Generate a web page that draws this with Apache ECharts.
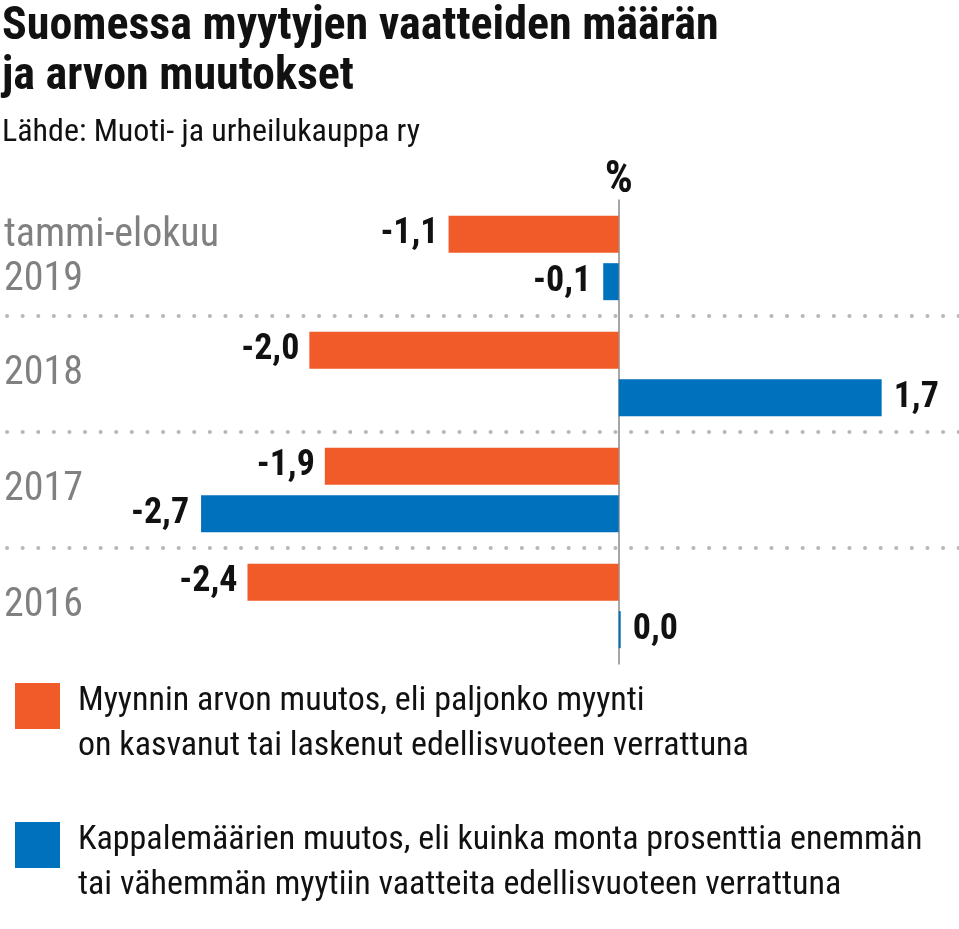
<!DOCTYPE html>
<html>
<head>
<meta charset="utf-8">
<script src="https://cdn.jsdelivr.net/npm/echarts@6/dist/echarts.min.js"></script>
<style>
html,body{margin:0;padding:0;background:#fff;}
#c{width:959px;height:929px;}
</style>
</head>
<body>
<div id="c"></div>
<script>
const FONT = "'Roboto Condensed', 'Liberation Sans Narrow', 'Arial Narrow', 'DejaVu Sans Condensed', Roboto, sans-serif";
const categories = ['tammi-elokuu\n2019', '2018', '2017', '2016'];
const valueChange = [-1.1, -2.0, -1.9, -2.4];
const quantityChange = [-0.1, 1.7, -2.7, 0.0];
const seriesNames = [
  'Myynnin arvon muutos, eli paljonko myynti\non kasvanut tai laskenut edellisvuoteen verrattuna',
  'Kappalemäärien muutos, eli kuinka monta prosenttia enemmän\ntai vähemmän myytiin vaatteita edellisvuoteen verrattuna'
];
const colors = ['#F15A29', '#0071BC'];

function toData(arr) {
  return arr.map(v => ({
    value: v,
    label: { position: v >= 0 ? 'right' : 'left' }
  }));
}
function fmt(p) { return p.value.toFixed(1).replace('.', ','); }
function legendFmt(name) {
  return '{s| }\n' + name.split('\n').map(l => '{a|' + l + '}').join('\n');
}

const chart = echarts.init(document.getElementById('c'));
const legendText = {
  fontFamily: FONT, fontSize: 34, color: '#111',
  rich: {
    s: { fontSize: 10, lineHeight: 36 },
    a: { fontFamily: FONT, fontSize: 34, color: '#111', lineHeight: 45, padding: [0, 0, 0, 13] }
  }
};
const legendBase = {
  left: 15, orient: 'vertical', itemWidth: 45, itemHeight: 46, padding: 0,
  icon: 'rect', itemGap: 0, textStyle: legendText, selectedMode: false, formatter: legendFmt
};
chart.setOption({
  animation: false,
  backgroundColor: '#fff',
  title: {
    text: 'Suomessa myytyjen vaatteiden määrän\nja arvon muutokset',
    subtext: 'Lähde: Muoti- ja urheilukauppa ry',
    left: 0, top: 2, padding: [0, 0, 0, 2],
    itemGap: 14,
    textStyle: { fontFamily: FONT, fontSize: 46, fontWeight: 'bold', color: '#111', lineHeight: 50 },
    subtextStyle: { fontFamily: FONT, fontSize: 32, color: '#111', lineHeight: 34 }
  },
  legend: [
    Object.assign({}, legendBase, { data: [seriesNames[0]], top: 656 }),
    Object.assign({}, legendBase, { data: [seriesNames[1]], top: 795 })
  ],
  grid: { left: 0, right: 0, top: 200, bottom: 265, containLabel: false, outerBoundsMode: 'none' },
  xAxis: {
    type: 'value', min: -4, max: 2.2, show: false,
    splitLine: { show: false }
  },
  yAxis: {
    type: 'category',
    data: categories,
    inverse: true,
    name: '%',
    nameLocation: 'start',
    nameGap: -3,
    nameTextStyle: { fontFamily: FONT, fontSize: 44, fontWeight: 'bold', color: '#111', align: 'center', verticalAlign: 'bottom', lineHeight: 44 },
    axisLine: { show: true, onZero: true, lineStyle: { color: '#888', width: 1.5 } },
    axisTick: { show: false },
    axisLabel: {
      align: 'left', margin: -4,
      fontFamily: FONT, fontSize: 40, fontWeight: 'normal', color: '#808080', lineHeight: 44
    },
    splitLine: {
      show: true, showMinLine: false, showMaxLine: false,
      lineStyle: { color: '#b8b8b8', width: 4, type: [0.1, 15.5], dashOffset: -7, cap: 'round' }
    }
  },
  series: [
    {
      name: seriesNames[0], type: 'bar', data: toData(valueChange),
      barWidth: 37, barGap: '28%', barMinHeight: 2,
      itemStyle: { color: colors[0] },
      label: { show: true, formatter: fmt, distance: 10, fontFamily: FONT, fontSize: 36, fontWeight: 'bold', color: '#111' }
    },
    {
      name: seriesNames[1], type: 'bar', data: toData(quantityChange),
      barWidth: 37, barGap: '28%', barMinHeight: 2,
      itemStyle: { color: colors[1] },
      label: { show: true, formatter: fmt, distance: 12, fontFamily: FONT, fontSize: 36, fontWeight: 'bold', color: '#111' }
    }
  ]
});
</script>
</body>
</html>
